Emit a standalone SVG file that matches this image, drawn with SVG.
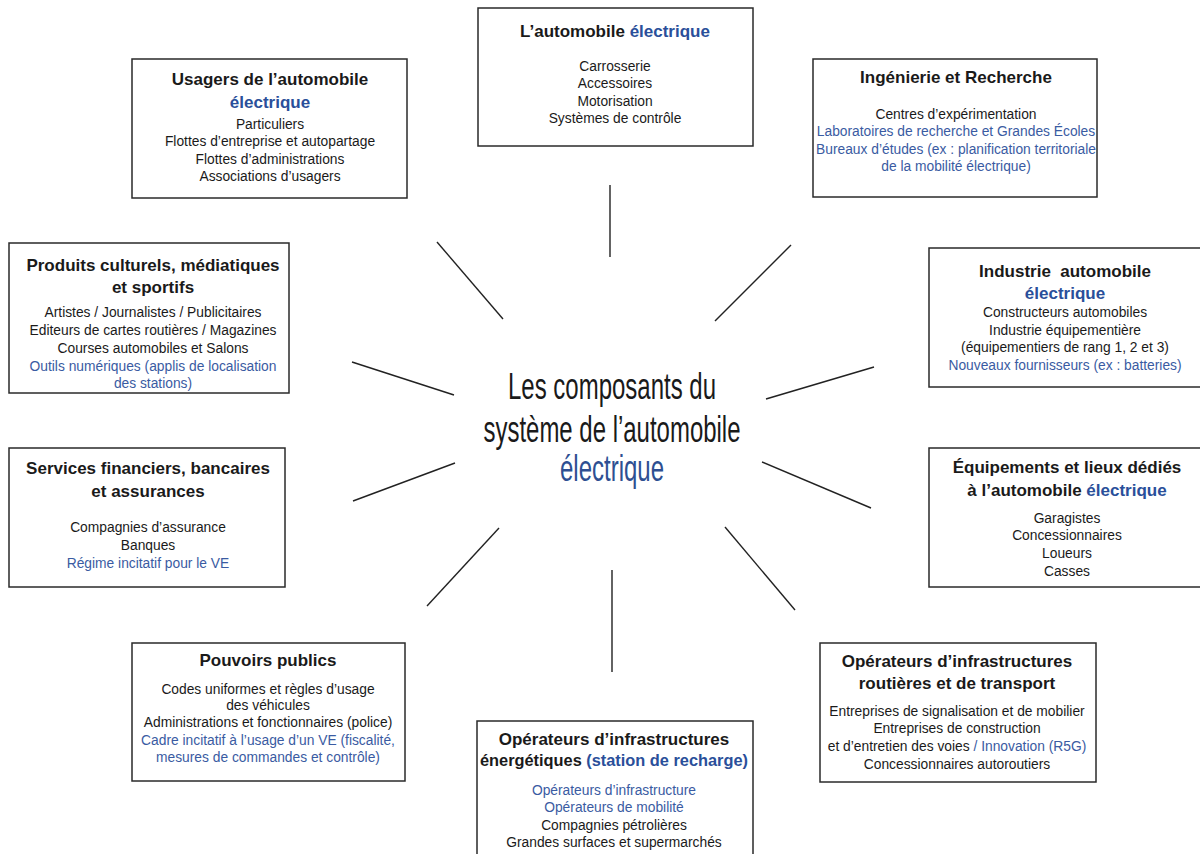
<svg xmlns="http://www.w3.org/2000/svg" width="1200" height="854" viewBox="0 0 1200 854">
<style>
  text { font-family: "Liberation Sans", Arial, sans-serif; text-anchor: middle; fill: #1a1a1a; }
  .t { font-size: 17px; font-weight: bold; }
  .b { font-size: 13.8px; }
  .blue { fill: #3a5ba2; }
  .tb { fill: #2a4f9a; }
  .box { fill: #ffffff; stroke: #2a2a2a; stroke-width: 1.5; }
  .conn line { stroke: #222222; stroke-width: 1.4; }
  .center { font-size: 36px; }
</style>
<rect x="0" y="0" width="1200" height="854" fill="#ffffff"/>

<g class="conn" id="connectors">
  <line x1="610" y1="185" x2="610" y2="257"/>
  <line x1="437" y1="242" x2="503" y2="319"/>
  <line x1="791" y1="245" x2="715" y2="321"/>
  <line x1="352" y1="362" x2="454" y2="395"/>
  <line x1="766" y1="399" x2="874" y2="367"/>
  <line x1="353" y1="501" x2="455" y2="463"/>
  <line x1="762" y1="462" x2="871" y2="508"/>
  <line x1="427" y1="606" x2="499" y2="528"/>
  <line x1="725" y1="527" x2="795" y2="610"/>
  <line x1="612" y1="570" x2="612" y2="672"/>
</g>

<g id="center">
  <text class="center" x="612" y="399" textLength="208" lengthAdjust="spacingAndGlyphs">Les composants du</text>
  <text class="center" x="612" y="442" textLength="257" lengthAdjust="spacingAndGlyphs">système de l’automobile</text>
  <text class="center" x="612" y="481" textLength="104" lengthAdjust="spacingAndGlyphs" style="fill:#2e4f92">électrique</text>
</g>

<g id="automobile">
  <rect class="box" x="478" y="8" width="275" height="138"/>
  <text class="t" x="615" y="37">L’automobile <tspan class="tb">électrique</tspan></text>
  <text class="b" x="615" y="71">Carrosserie</text>
  <text class="b" x="615" y="88">Accessoires</text>
  <text class="b" x="615" y="106">Motorisation</text>
  <text class="b" x="615" y="123">Systèmes de contrôle</text>
</g>

<g id="usagers">
  <rect class="box" x="132" y="59" width="275" height="139"/>
  <text class="t" x="270" y="85">Usagers de l’automobile</text>
  <text class="t tb" x="270" y="108">électrique</text>
  <text class="b" x="270" y="129">Particuliers</text>
  <text class="b" x="270" y="146">Flottes d’entreprise et autopartage</text>
  <text class="b" x="270" y="164">Flottes d’administrations</text>
  <text class="b" x="270" y="181">Associations d’usagers</text>
</g>

<g id="ingenierie">
  <rect class="box" x="813" y="59" width="284" height="138"/>
  <text class="t" x="956" y="83">Ingénierie et Recherche</text>
  <text class="b" x="956" y="119">Centres d’expérimentation</text>
  <text class="b blue" x="956" y="136">Laboratoires de recherche et Grandes Écoles</text>
  <text class="b blue" x="956" y="154">Bureaux d’études (ex : planification territoriale</text>
  <text class="b blue" x="956" y="171">de la mobilité électrique)</text>
</g>

<g id="produits">
  <rect class="box" x="9" y="243" width="280" height="150"/>
  <text class="t" x="153" y="271">Produits culturels, médiatiques</text>
  <text class="t" x="153" y="293">et sportifs</text>
  <text class="b" x="153" y="317">Artistes / Journalistes / Publicitaires</text>
  <text class="b" x="153" y="335">Editeurs de cartes routières / Magazines</text>
  <text class="b" x="153" y="353">Courses automobiles et Salons</text>
  <text class="b blue" x="153" y="371">Outils numériques (applis de localisation</text>
  <text class="b blue" x="153" y="388">des stations)</text>
</g>

<g id="services">
  <rect class="box" x="9" y="448" width="276" height="139"/>
  <text class="t" x="148" y="474">Services financiers, bancaires</text>
  <text class="t" x="148" y="497">et assurances</text>
  <text class="b" x="148" y="532">Compagnies d’assurance</text>
  <text class="b" x="148" y="550">Banques</text>
  <text class="b blue" x="148" y="568">Régime incitatif pour le VE</text>
</g>

<g id="industrie">
  <rect class="box" x="929" y="248" width="275" height="139"/>
  <text class="t" x="1065" y="277" xml:space="preserve">Industrie  automobile</text>
  <text class="t tb" x="1065" y="299">électrique</text>
  <text class="b" x="1065" y="317">Constructeurs automobiles</text>
  <text class="b" x="1065" y="335">Industrie équipementière</text>
  <text class="b" x="1065" y="352">(équipementiers de rang 1, 2 et 3)</text>
  <text class="b blue" x="1065" y="370">Nouveaux fournisseurs (ex : batteries)</text>
</g>

<g id="equipements">
  <rect class="box" x="929" y="448" width="275" height="139"/>
  <text class="t" x="1067" y="473">Équipements et lieux dédiés</text>
  <text class="t" x="1067" y="496">à l’automobile <tspan class="tb">électrique</tspan></text>
  <text class="b" x="1067" y="523">Garagistes</text>
  <text class="b" x="1067" y="540">Concessionnaires</text>
  <text class="b" x="1067" y="558">Loueurs</text>
  <text class="b" x="1067" y="576">Casses</text>
</g>

<g id="pouvoirs">
  <rect class="box" x="132" y="643" width="273" height="138"/>
  <text class="t" x="268" y="666">Pouvoirs publics</text>
  <text class="b" x="268" y="694">Codes uniformes et règles d’usage</text>
  <text class="b" x="268" y="710">des véhicules</text>
  <text class="b" x="268" y="727">Administrations et fonctionnaires (police)</text>
  <text class="b blue" x="268" y="745">Cadre incitatif à l’usage d’un VE (fiscalité,</text>
  <text class="b blue" x="268" y="762">mesures de commandes et contrôle)</text>
</g>

<g id="energetiques">
  <rect class="box" x="477" y="721" width="276" height="145"/>
  <text class="t" x="614" y="745">Opérateurs d’infrastructures</text>
  <text class="t" x="614" y="766" textLength="268" lengthAdjust="spacingAndGlyphs">énergétiques <tspan class="tb">(station de recharge)</tspan></text>
  <text class="b blue" x="614" y="795">Opérateurs d’infrastructure</text>
  <text class="b blue" x="614" y="812">Opérateurs de mobilité</text>
  <text class="b" x="614" y="830">Compagnies pétrolières</text>
  <text class="b" x="614" y="847">Grandes surfaces et supermarchés</text>
</g>

<g id="routieres">
  <rect class="box" x="820" y="643" width="276" height="139"/>
  <text class="t" x="957" y="667">Opérateurs d’infrastructures</text>
  <text class="t" x="957" y="689">routières et de transport</text>
  <text class="b" x="957" y="716">Entreprises de signalisation et de mobilier</text>
  <text class="b" x="957" y="733">Entreprises de construction</text>
  <text class="b" x="957" y="751">et d’entretien des voies <tspan class="blue">/ Innovation (R5G)</tspan></text>
  <text class="b" x="957" y="769">Concessionnaires autoroutiers</text>
</g>
</svg>
